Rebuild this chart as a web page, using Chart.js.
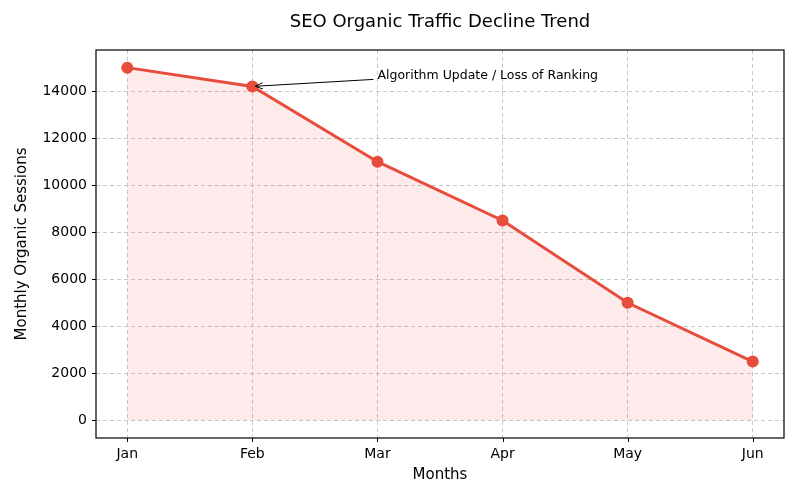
<!DOCTYPE html>
<html>
<head>
<meta charset="utf-8">
<script src="https://cdn.jsdelivr.net/npm/chart.js@4.4.1/dist/chart.umd.min.js"></script>
<style>
  html, body { margin: 0; padding: 0; background: #fff; }
  #wrap { width: 800px; height: 500px; }
</style>
</head>
<body>
<div id="wrap"><canvas id="seoChart" width="800" height="500"></canvas></div>
<script>
var months = ["Jan", "Feb", "Mar", "Apr", "May", "Jun"];
var sessions = [15000, 14200, 11000, 8500, 5000, 2500];
var yTicks = [0, 2000, 4000, 6000, 8000, 10000, 12000, 14000];
var noteText = "Algorithm Update / Loss of Ranking";
var noteAt = [1, 14200];
var noteTextAt = [2, 14500];

var FONT = "'DejaVu Sans', sans-serif";
var lineColor = "#e74c3c";

var points = sessions.map(function(v, i) { return { x: i, y: v }; });

// frame, tick marks, titles and the annotation arrow
var extras = {
  id: "extras",
  afterDraw: function(chart) {
    var ctx = chart.ctx, a = chart.chartArea;
    var xs = chart.scales.x, ys = chart.scales.y;
    ctx.save();
    ctx.strokeStyle = "#000";
    ctx.lineWidth = 1.2;
    ctx.strokeRect(a.left, a.top, a.right - a.left, a.bottom - a.top);

    ctx.lineWidth = 1;
    ctx.beginPath();
    yTicks.forEach(function(t) {
      var py = Math.round(ys.getPixelForValue(t)) + 0.5;
      ctx.moveTo(a.left - 4, py); ctx.lineTo(a.left, py);
    });
    months.forEach(function(m, i) {
      var px = Math.round(xs.getPixelForValue(i)) + 0.5;
      ctx.moveTo(px, a.bottom); ctx.lineTo(px, a.bottom + 4);
    });
    ctx.stroke();

    ctx.fillStyle = "#000";
    ctx.textAlign = "center";
    ctx.textBaseline = "middle";
    ctx.font = "18px " + FONT;
    ctx.fillText("SEO Organic Traffic Decline Trend", (a.left + a.right) / 2, 22);
    ctx.font = "15px " + FONT;
    ctx.fillText("Months", (a.left + a.right) / 2, 475);
    ctx.save();
    ctx.translate(22, (a.top + a.bottom) / 2);
    ctx.rotate(-Math.PI / 2);
    ctx.fillText("Monthly Organic Sessions", 0, 0);
    ctx.restore();

    // annotation
    var tx = xs.getPixelForValue(noteTextAt[0]);
    var ty = ys.getPixelForValue(noteTextAt[1]);
    ctx.font = "12.5px " + FONT;
    ctx.textAlign = "left";
    ctx.textBaseline = "alphabetic";
    ctx.fillText(noteText, tx, ty);

    var px = xs.getPixelForValue(noteAt[0]), py = ys.getPixelForValue(noteAt[1]);
    var sx = tx - 4, sy = ty;
    var ang = Math.atan2(py - sy, px - sx);
    var ex = px - Math.cos(ang) * 3, ey = py - Math.sin(ang) * 3;
    ctx.strokeStyle = "#000";
    ctx.lineWidth = 1;
    ctx.beginPath();
    ctx.moveTo(sx, sy); ctx.lineTo(ex, ey);
    ctx.moveTo(ex - Math.cos(ang - 0.4) * 8, ey - Math.sin(ang - 0.4) * 8);
    ctx.lineTo(ex, ey);
    ctx.lineTo(ex - Math.cos(ang + 0.4) * 8, ey - Math.sin(ang + 0.4) * 8);
    ctx.stroke();
    ctx.restore();
  }
};

new Chart(document.getElementById("seoChart"), {
  type: "line",
  data: {
    datasets: [{
      data: points,
      borderColor: lineColor,
      backgroundColor: "rgba(231, 76, 60, 0.11)",
      borderWidth: 3,
      pointRadius: 6,
      pointBackgroundColor: lineColor,
      pointBorderColor: lineColor,
      pointBorderWidth: 0,
      tension: 0,
      fill: "origin"
    }]
  },
  options: {
    responsive: false,
    animation: false,
    layout: { padding: { top: 50, right: 16, left: 0, bottom: 0 } },
    plugins: { legend: { display: false }, title: { display: false }, tooltip: { enabled: false } },
    scales: {
      x: {
        type: "linear",
        min: -0.25,
        max: 5.25,
        afterBuildTicks: function(s) { s.ticks = months.map(function(m, i) { return { value: i }; }); },
        afterFit: function(s) { s.height = 62; },
        ticks: {
          padding: 8,
          color: "#000",
          font: { family: FONT, size: 14 },
          callback: function(v) { return months[v]; }
        },
        grid: { color: "#c8c8c8", drawTicks: false },
        border: { display: false, dash: [4, 3] }
      },
      y: {
        min: -750,
        max: 15750,
        afterBuildTicks: function(s) { s.ticks = yTicks.map(function(t) { return { value: t }; }); },
        afterFit: function(s) { s.width = 96; },
        ticks: {
          padding: 9,
          color: "#000",
          font: { family: FONT, size: 14 },
          callback: function(v) { return String(v); }
        },
        grid: { color: "#c8c8c8", drawTicks: false },
        border: { display: false, dash: [4, 3] }
      }
    }
  },
  plugins: [extras]
});
</script>
</body>
</html>
